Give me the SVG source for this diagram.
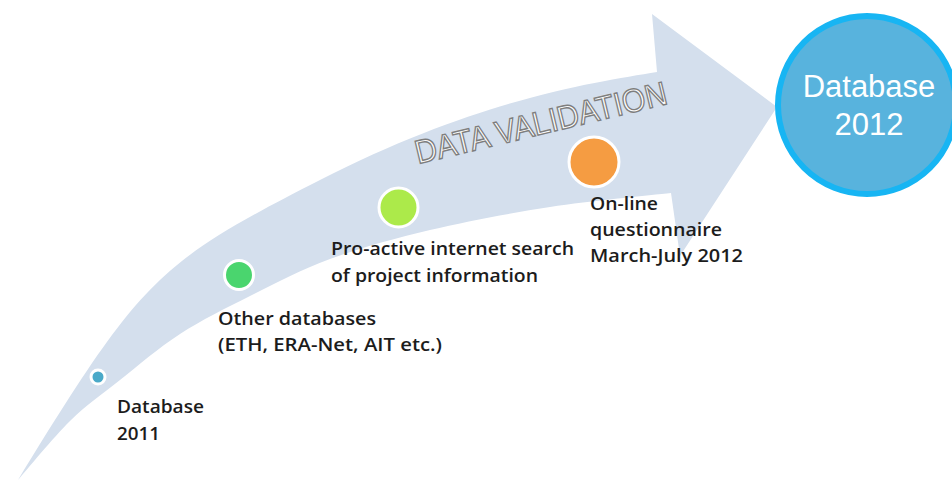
<svg xmlns="http://www.w3.org/2000/svg" width="952" height="483" viewBox="0 0 952 483">
<style>
.lbl{font-family:"Open Sans","Noto Sans","Liberation Sans",sans-serif;font-size:18.5px;font-weight:600;fill:#1c1c1c;}
.dot{stroke:#ffffff;stroke-width:3;}
.title{font-family:"Liberation Sans",Arial,sans-serif;font-size:33px;fill:#ffffff;stroke:#7e7e7e;stroke-width:1.4;}
.big{font-family:"Liberation Sans",Arial,sans-serif;font-size:31px;fill:#ffffff;text-anchor:middle;}
</style>
<rect width="952" height="483" fill="#ffffff"/>
<g id="arrow">
<path fill="#d4dfed" d="M18,480 C141.8,278.2 157,263.2 320,180 C480,98 597,82 657,72 L652,14 L777,107 L680,256 L671,193 C650.8,195.3 590.2,200.8 550,207 C509.8,213.2 466.7,221.3 430,230 C393.3,238.7 360,248 330,259 C300,270 275,283.5 250,296 C225,308.5 201.7,320 180,334 C158.3,348 138.3,365.5 120,380 C101.7,394.5 87,404.3 70,421 C53,437.7 26.7,470.2 18,480 Z"/>
<text class="title" transform="translate(418,164) rotate(-13.5)" textLength="258" lengthAdjust="spacingAndGlyphs">DATA VALIDATION</text>
</g>
<g id="node-db2011">
<circle class="dot" cx="98" cy="377" r="7" fill="#4aa9c8"/>
<text class="lbl" x="117" y="413" textLength="87" lengthAdjust="spacingAndGlyphs">Database</text>
<text class="lbl" x="117" y="440" textLength="43" lengthAdjust="spacingAndGlyphs">2011</text>
</g>
<g id="node-other">
<circle class="dot" cx="239" cy="275" r="14.5" fill="#4ad56e"/>
<text class="lbl" x="218" y="325" textLength="158" lengthAdjust="spacingAndGlyphs">Other databases</text>
<text class="lbl" x="218" y="351" textLength="224" lengthAdjust="spacingAndGlyphs">(ETH, ERA-Net, AIT etc.)</text>
</g>
<g id="node-search">
<circle class="dot" cx="398.5" cy="207.5" r="19.5" fill="#acea4a"/>
<text class="lbl" x="331" y="255" textLength="243" lengthAdjust="spacingAndGlyphs">Pro-active internet search</text>
<text class="lbl" x="331" y="282" textLength="207" lengthAdjust="spacingAndGlyphs">of project information</text>
</g>
<g id="node-questionnaire">
<circle class="dot" cx="594" cy="162" r="25" fill="#f59c42"/>
<text class="lbl" x="590" y="210" textLength="68" lengthAdjust="spacingAndGlyphs">On-line</text>
<text class="lbl" x="590" y="236" textLength="132" lengthAdjust="spacingAndGlyphs">questionnaire</text>
<text class="lbl" x="590" y="262" textLength="153" lengthAdjust="spacingAndGlyphs">March-July 2012</text>
</g>
<g id="node-db2012">
<circle cx="867" cy="105" r="89" fill="#58b3dd" stroke="#17b5f3" stroke-width="6"/>
<text class="big" x="869" y="97">Database</text>
<text class="big" x="869" y="135">2012</text>
</g>
<g id="connectors"></g>
</svg>
